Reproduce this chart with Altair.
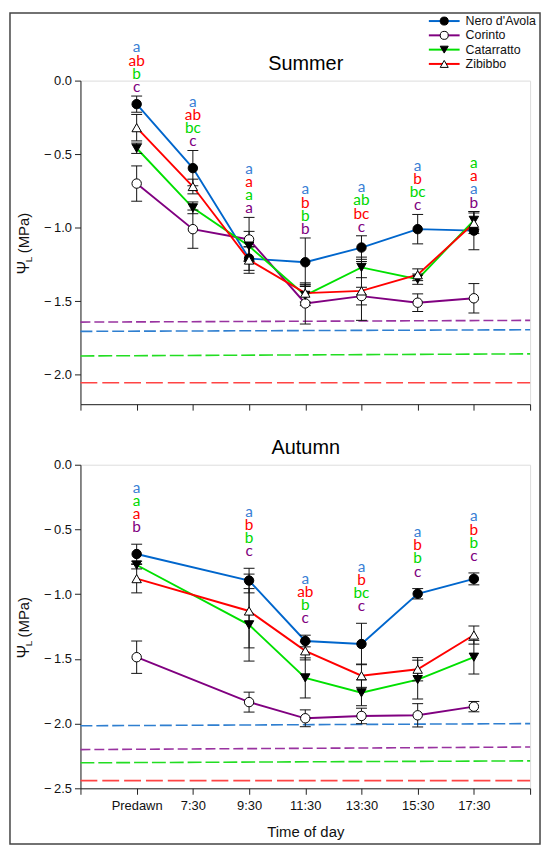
import altair as alt
import pandas as pd

SERIES = ["Nero d'Avola", "Corinto", "Catarratto", "Zibibbo"]
TIMES = ["Predawn", "7:30", "9:30", "11:30", "13:30", "15:30", "17:30"]

# ---- Summer: mean leaf water potential (MPa) and error ----
SUMMER_MEAN = {
    "Nero d'Avola": [-0.16, -0.595, -1.21, -1.235, -1.135, -1.01, -1.02],
    "Corinto":      [-0.70, -1.01, -1.08, -1.515, -1.465, -1.51, -1.48],
    "Catarratto":   [-0.46, -0.865, -1.125, -1.46, -1.27, -1.35, -0.95],
    "Zibibbo":      [-0.32, -0.72, -1.22, -1.445, -1.43, -1.32, -0.97],
}
SUMMER_ERR = {
    "Nero d'Avola": [0.055, 0.12, 0.08, 0.165, 0.08, 0.10, 0.13],
    "Corinto":      [0.12, 0.13, 0.15, 0.14, 0.06, 0.06, 0.10],
    "Catarratto":   [0.035, 0.04, 0.10, 0.07, 0.07, 0.035, 0.06],
    "Zibibbo":      [0.09, 0.05, 0.09, 0.06, 0.20, 0.04, 0.07],
}
# ---- Autumn (no 7:30 measurement) ----
AUTUMN_MEAN = {
    "Nero d'Avola": [-0.69, None, -0.895, -1.362, -1.385, -0.997, -0.882],
    "Corinto":      [-1.487, None, -1.834, -1.959, -1.941, -1.936, -1.869],
    "Catarratto":   [-0.775, None, -1.237, -1.647, -1.762, -1.66, -1.487],
    "Zibibbo":      [-0.88, None, -1.13, -1.438, -1.63, -1.58, -1.316],
}
AUTUMN_ERR = {
    "Nero d'Avola": [0.076, None, 0.095, 0.045, 0.16, 0.04, 0.046],
    "Corinto":      [0.125, None, 0.077, 0.065, 0.06, 0.09, 0.04],
    "Catarratto":   [0.03, None, 0.28, 0.155, 0.10, 0.15, 0.13],
    "Zibibbo":      [0.11, None, 0.285, 0.07, 0.09, 0.09, 0.07],
}

# dashed threshold lines (value at left end, value at right end)
SUMMER_THRESH_START = [-1.705, -1.642, -1.872, -2.054]
SUMMER_THRESH_END = [-1.694, -1.630, -1.858, -2.054]
AUTUMN_THRESH_START = [-2.017, -2.201, -2.303, -2.441]
AUTUMN_THRESH_END = [-2.000, -2.181, -2.288, -2.441]

# significance letters per time point, top to bottom
N, C, K, Z = SERIES
SUMMER_LETTER_SERIES = [
    [N, Z, K, C], [N, Z, K, C], [N, Z, K, C], [N, Z, K, C],
    [N, K, Z, C], [N, Z, K, C], [K, Z, N, C],
]
SUMMER_LETTER_TEXT = [
    ["a", "ab", "b", "c"], ["a", "ab", "bc", "c"], ["a", "a", "a", "a"],
    ["a", "b", "b", "b"], ["a", "ab", "bc", "c"], ["a", "b", "bc", "c"],
    ["a", "a", "a", "b"],
]
AUTUMN_LETTER_SERIES = [
    [N, K, Z, C], [], [N, Z, K, C], [N, Z, K, C],
    [N, Z, K, C], [N, Z, K, C], [N, Z, K, C],
]
AUTUMN_LETTER_TEXT = [
    ["a", "a", "a", "b"], [], ["a", "b", "b", "c"], ["a", "ab", "b", "c"],
    ["a", "b", "bc", "c"], ["a", "b", "b", "c"], ["a", "b", "b", "c"],
]

LINE_COLORS = ["#0066CC", "#800080", "#00E000", "#FF0000"]
LETTER_COLORS = ["#3A7FD5", "#800080", "#00D800", "#FF0000"]
DASH_COLORS = ["#2F7FD0", "#9933A0", "#22DD22", "#FF4444"]
DASHES = [[12, 4], [10, 4], [14, 4], [17, 5]]
SHAPES = ["circle", "circle", "triangle-down", "triangle-up"]
FILLS = ["black", "white", "black", "white"]

FONT = "Liberation Sans"
ONE = pd.DataFrame({"k": [0]})


def panel(mean, err, th_start, th_end, let_series, let_text, ymin, title,
          title_y, gap, bottom, legend):
    rows = []
    for s in SERIES:
        for i, t in enumerate(TIMES):
            m = mean[s][i]
            if m is None:
                continue
            e = err[s][i]
            rows.append(dict(series=s, t=i, time=t, mean=m, lo=m - e, hi=m + e))
    df = pd.DataFrame(rows)
    top_by_t = df.groupby("t")["hi"].max()

    lrows = []
    for i, (ss, tt) in enumerate(zip(let_series, let_text)):
        n = len(ss)
        for k, (s, txt) in enumerate(zip(ss, tt)):
            lrows.append(dict(t=i, series=s, letter=txt, rank=n - 1 - k,
                              base=float(top_by_t[i])))
    ldf = pd.DataFrame(lrows)

    th = pd.DataFrame([dict(series=s, x=x, y=y)
                       for s, a, b in zip(SERIES, th_start, th_end)
                       for x, y in ((-1, a), (7, b))])

    xs = alt.Scale(domain=[-1, 7], nice=False, zero=False)
    ys = alt.Scale(domain=[ymin, 0], nice=False, zero=False)
    nt = int(round(-ymin / 0.5 - 0.49)) + 1
    yticks = [-0.5 * k for k in range(nt)]
    yaxis = alt.Axis(values=yticks, title=None, grid=False, tickSize=6,
                     labelPadding=3, labelFontSize=13, labelFont=FONT,
                     labelColor="#111", tickColor="#222", domainColor="#222",
                     labelExpr="datum.value == 0 ? '0.0' : '\u2212\u2009' + format(-datum.value, '.1f')")
    if bottom:
        names = ",".join("'%s'" % t for t in TIMES)
        xaxis = alt.Axis(values=list(range(-1, 8)), grid=False, tickSize=6,
                         labelFontSize=13, labelFont=FONT, labelColor="#111",
                         labelPadding=5, tickColor="#222", domainColor="#222",
                         title="Time of day", titleFontSize=15, titleFont=FONT,
                         titleFontWeight="normal", titleColor="#111",
                         titlePadding=13,
                         labelExpr="datum.value >= 0 && datum.value <= 6 ? [%s][datum.value] : ''" % names)
    else:
        xaxis = alt.Axis(values=list(range(-1, 8)), grid=False, tickSize=6,
                         labels=False, title=None, tickColor="#222",
                         domainColor="#222")

    def X(f):
        return alt.X(f, scale=xs, axis=xaxis)

    def Y(f):
        return alt.Y(f, scale=ys, axis=yaxis)

    layers = []
    if legend:
        layers.append(alt.Chart(ONE).mark_rect(filled=False, stroke="#444",
                                               strokeWidth=1.5).encode(
            x=alt.value(-71), x2=alt.value(463), y=alt.value(-68), y2=alt.value(769)))

    layers.append(alt.Chart(th).mark_line(strokeWidth=1.6).encode(
        x=X("x:Q"), y=Y("y:Q"),
        stroke=alt.Stroke("series:N", scale=alt.Scale(domain=SERIES, range=DASH_COLORS), legend=None),
        strokeDash=alt.StrokeDash("series:N", scale=alt.Scale(domain=SERIES, range=DASHES), legend=None),
    ))
    base = alt.Chart(df)
    layers.append(base.mark_line(strokeWidth=1.9).encode(
        x=X("t:Q"), y=Y("mean:Q"),
        color=alt.Color("series:N", scale=alt.Scale(domain=SERIES, range=LINE_COLORS), legend=None),
        order="t:Q",
    ))
    layers.append(base.mark_rule(color="#111", strokeWidth=1).encode(
        x=X("t:Q"), y=Y("lo:Q"), y2="hi:Q"))
    layers.append(base.mark_tick(orient="horizontal", size=11, thickness=1, color="#111", opacity=1).encode(
        x=X("t:Q"), y=Y("lo:Q")))
    layers.append(base.mark_tick(orient="horizontal", size=11, thickness=1, color="#111", opacity=1).encode(
        x=X("t:Q"), y=Y("hi:Q")))
    layers.append(base.mark_point(filled=True, stroke="black", strokeWidth=1, size=90, opacity=1).encode(
        x=X("t:Q"), y=Y("mean:Q"),
        shape=alt.Shape("series:N", scale=alt.Scale(domain=SERIES, range=SHAPES), legend=None),
        fill=alt.Fill("series:N", scale=alt.Scale(domain=SERIES, range=FILLS), legend=None),
    ))
    lbase = alt.Chart(ldf)
    for r in range(4):
        layers.append(lbase.transform_filter(alt.datum.rank == r).mark_text(
            font="Lato", fontSize=15.5, baseline="middle", align="center",
            dy=-(gap + 13.3 * r)).encode(
            x=X("t:Q"), y=Y("base:Q"), text="letter:N",
            color=alt.Color("series:N", scale=alt.Scale(domain=SERIES, range=LETTER_COLORS), legend=None),
        ))
    layers.append(alt.Chart(ONE).mark_text(font=FONT, fontSize=20, baseline="middle",
                                           align="center", color="black").encode(
        x=alt.value(227), y=alt.value(title_y), text=alt.value(title)))
    # y-axis title: Psi with subscript L
    mid = 163
    layers.append(alt.Chart(ONE).mark_text(font=FONT, fontSize=16, angle=270, align="left",
                                           baseline="middle", dx=-32, color="#111").encode(
        x=alt.value(-57), y=alt.value(mid), text=alt.value("\u03a8")))
    layers.append(alt.Chart(ONE).mark_text(font=FONT, fontSize=10, angle=270, align="left",
                                           baseline="middle", dx=-20, dy=5, color="#111").encode(
        x=alt.value(-57), y=alt.value(mid), text=alt.value("L")))
    layers.append(alt.Chart(ONE).mark_text(font=FONT, fontSize=15, angle=270, align="left",
                                           baseline="middle", dx=-11, color="#111").encode(
        x=alt.value(-57), y=alt.value(mid), text=alt.value("(MPa)")))
    if legend:
        for i, s in enumerate(SERIES):
            ry = -60 + 14.4 * i
            layers.append(alt.Chart(ONE).mark_rule(color=LINE_COLORS[i], strokeWidth=2).encode(
                x=alt.value(351), x2=alt.value(382), y=alt.value(ry)))
            layers.append(alt.Chart(ONE).mark_point(shape=SHAPES[i], filled=True, fill=FILLS[i],
                                                    stroke="black", strokeWidth=1, size=65,
                                                    opacity=1).encode(
                x=alt.value(366.5), y=alt.value(ry)))
            layers.append(alt.Chart(ONE).mark_text(font=FONT, fontSize=12.5, align="left",
                                                   baseline="middle", color="#111").encode(
                x=alt.value(388), y=alt.value(ry), text=alt.value(s)))

    return alt.layer(*layers).resolve_scale(color="independent").properties(width=453, height=326)


top = panel(SUMMER_MEAN, SUMMER_ERR, SUMMER_THRESH_START, SUMMER_THRESH_END,
            SUMMER_LETTER_SERIES, SUMMER_LETTER_TEXT, -2.2, "Summer", -16.5, 9,
            bottom=False, legend=True)
bot = panel(AUTUMN_MEAN, AUTUMN_ERR, AUTUMN_THRESH_START, AUTUMN_THRESH_END,
            AUTUMN_LETTER_SERIES, AUTUMN_LETTER_TEXT, -2.5, "Autumn", -17, 17,
            bottom=True, legend=False)

chart = alt.vconcat(top, bot, spacing=61, bounds="flush").properties(
    padding=0, background="white"
).configure_view(strokeWidth=0).configure(font=FONT)

chart.save("out.html", embed_options={"renderer": "svg", "actions": False})
